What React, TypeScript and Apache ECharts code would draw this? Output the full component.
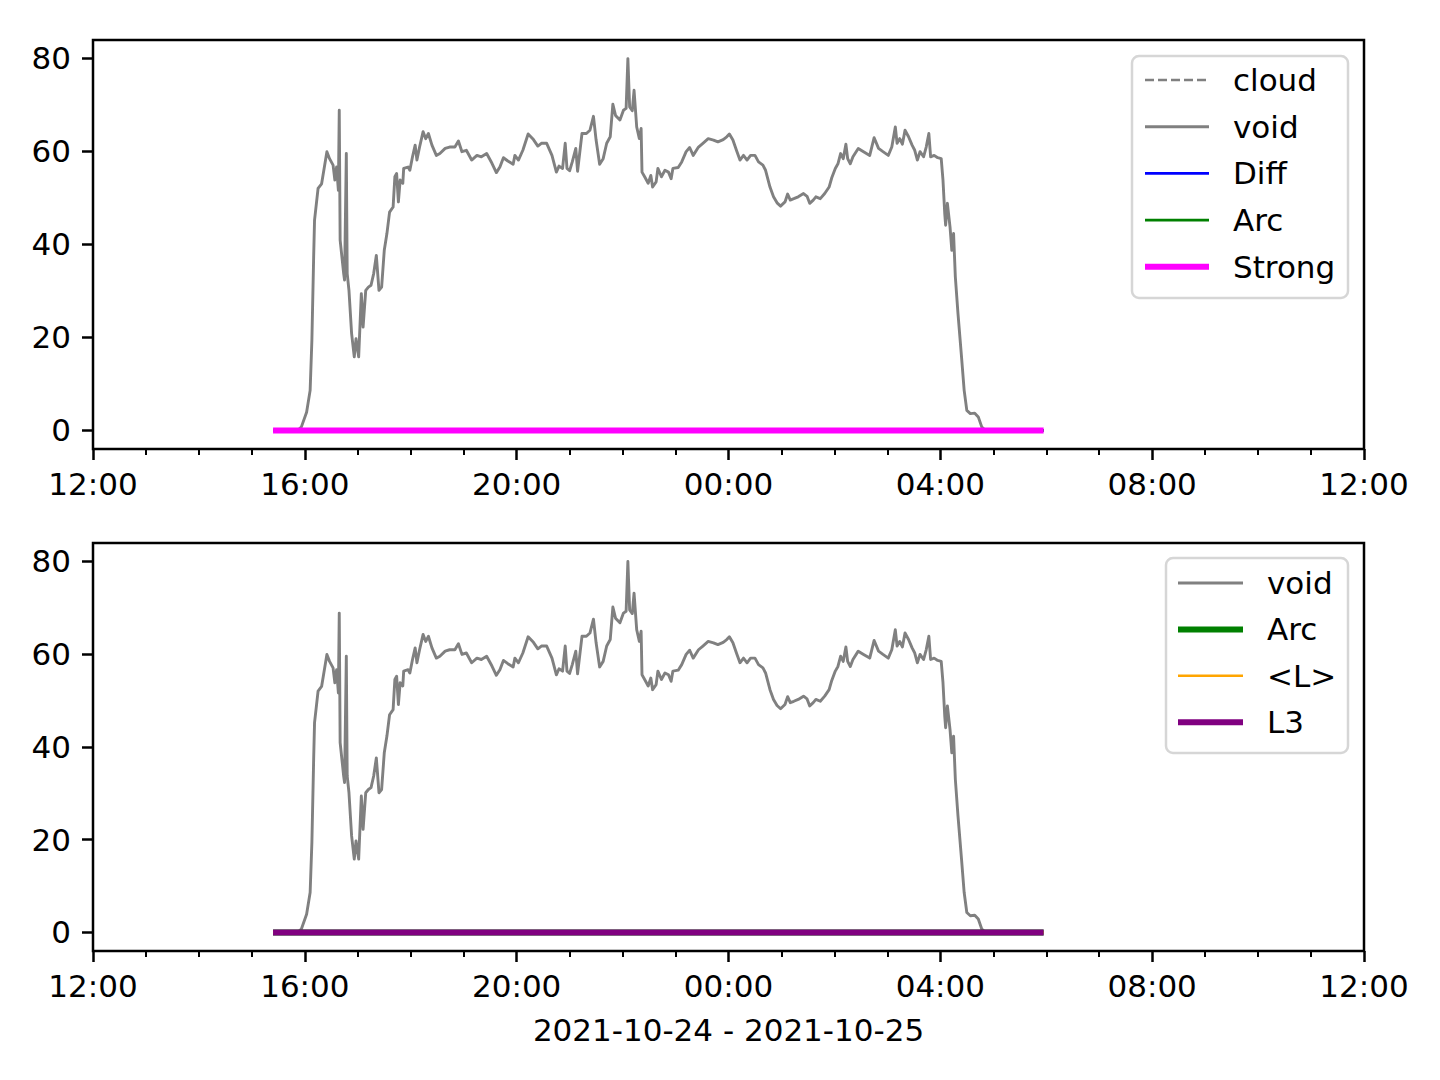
import React, { useEffect, useRef } from "react";
import * as echarts from "echarts";

// x values are minutes after 2021-10-24 12:00
const xTickLabels = ["12:00", "16:00", "20:00", "00:00", "04:00", "08:00", "12:00"];
const yTickValues = [0, 20, 40, 60, 80];
const xAxisTitle = "2021-10-24 - 2021-10-25";
const topLegendNames = ["cloud", "void", "Diff", "Arc", "Strong"];
const bottomLegendNames = ["void", "Arc", "<L>", "L3"];

const voidPoints: [number, number][] = [
  [204, 0], [232, 0], [236, 0.7], [242, 3.9], [246, 8.6], [248, 19.4], [250, 37.3], [251, 45.2],
  [255, 52], [259, 53], [265, 59.9], [268, 58.4], [272, 57], [274, 53.8], [276, 56.6], [278, 51.6],
  [279, 68.8], [280, 40.9], [284, 33.7], [285, 32.3], [287, 59.5], [288, 33.7], [290, 30.1], [293, 20.8],
  [296, 15.8], [298, 19.7], [301, 15.8], [304, 29.4], [306, 22.2], [309, 30.1], [312, 30.8], [315, 31.2],
  [318, 33.7], [321, 37.6], [324, 30.1], [327, 30.8], [330, 38.7], [333, 42.3], [336, 46.9], [340, 48],
  [342, 54.5], [344, 55.2], [346, 49.1], [348, 53.8], [351, 53.1], [352, 56.3], [357, 56.6], [359, 55.9],
  [362, 58.8], [365, 61.3], [367, 58.1], [370, 60.9], [374, 64.2], [377, 62.7], [380, 63.8], [384, 61.3],
  [389, 59.1], [393, 59.5], [399, 60.6], [404, 60.9], [410, 60.9], [414, 62.2], [418, 59.9], [423, 60.2],
  [429, 58.1], [435, 59.1], [440, 58.8], [446, 59.5], [452, 57.4], [457, 55.4], [461, 56.6], [465, 58.6],
  [470, 57.9], [476, 57.2], [478, 59.1], [482, 58.1], [487, 60.2], [493, 63.7], [499, 62.5], [504, 61.1],
  [508, 61.7], [514, 61.7], [520, 59.1], [525, 55.5], [528, 56.8], [532, 56.3], [535, 61.7], [537, 56.3],
  [540, 55.8], [543, 57.7], [547, 60.6], [549, 55.7], [554, 63.8], [559, 63.8], [563, 64.5], [567, 67.5],
  [570, 62.4], [574, 57.2], [578, 58.4], [582, 61.7], [586, 63.1], [589, 70.1], [592, 67.7], [597, 66.7],
  [601, 68.8], [604, 69.2], [606, 79.9], [608, 69.5], [611, 68.7], [613, 73.1], [616, 65.2], [619, 62.7],
  [621, 64.9], [622, 55.5], [625, 54.5], [629, 53.1], [632, 54.8], [634, 52.3], [638, 53.4], [640, 56.3],
  [644, 54.5], [648, 55.9], [652, 55.5], [655, 54.1], [657, 56.3], [663, 56.5], [667, 57.7], [672, 59.9],
  [676, 60.8], [680, 59.1], [686, 60.9], [691, 61.7], [697, 62.7], [703, 62.4], [708, 62], [714, 62.5],
  [718, 63.1], [721, 63.7], [725, 62.4], [729, 60.2], [733, 58.1], [737, 59.1], [741, 58.1], [745, 59.1],
  [750, 59.1], [754, 57.7], [759, 57], [762, 55.9], [767, 52.3], [771, 50.2], [775, 48.9], [779, 48.2],
  [784, 49.1], [787, 50.8], [790, 49.5], [794, 49.8], [799, 50.2], [805, 50.9], [809, 50.3], [812, 48.8],
  [816, 49.5], [819, 50.2], [824, 49.8], [829, 50.9], [834, 52.3], [837, 54.3], [841, 56.3], [844, 57.3],
  [847, 59.5], [850, 58.4], [853, 61.5], [855, 58.4], [858, 57.3], [861, 58.8], [867, 60.6], [873, 59.9],
  [880, 59.1], [885, 62.9], [890, 60.6], [895, 59.9], [901, 59.1], [905, 60.9], [909, 65.2], [911, 61.7],
  [914, 62.7], [917, 61.5], [920, 64.5], [924, 63.1], [928, 61.3], [931, 60.2], [934, 58.1], [937, 59.9],
  [941, 58.8], [944, 60.9], [947, 63.8], [949, 58.8], [953, 59.1], [957, 58.6], [961, 58.4], [963, 53.8],
  [965, 46.6], [966, 44.1], [968, 48.8], [971, 43.7], [973, 38.7], [975, 42.3], [977, 33], [980, 25.1],
  [984, 15.8], [987, 8.6], [990, 4.3], [994, 3.6], [999, 3.7], [1003, 2.9], [1007, 0.7], [1011, 0],
  [1077, 0],
];

// series that stay at zero over the whole record
const zeroStart = 204;
const zeroEnd = 1077;
const zeroValue = 0;

const FONT = "DejaVu Sans";
const GRAY = "#808080";

export default function App() {
  const ref = useRef<HTMLDivElement>(null);

  useEffect(() => {
    document.body.style.margin = "0";
    if (!ref.current) return;
    const chart = echarts.init(ref.current, null, { renderer: "svg" });

    const zeroData = [
      [zeroStart, zeroValue],
      [zeroEnd, zeroValue],
    ];

    const styleFor: Record<string, { color: string; width: number; dashed?: boolean }> = {
      cloud: { color: GRAY, width: 2.6, dashed: true },
      void: { color: GRAY, width: 2.9 },
      Diff: { color: "#0000ff", width: 2.6 },
      ArcTop: { color: "#008000", width: 2.6 },
      Strong: { color: "#ff00ff", width: 6 },
      ArcBottom: { color: "#008000", width: 6 },
      "<L>": { color: "#ffa500", width: 2.6 },
      L3: { color: "#800080", width: 6 },
    };

    const grids = [
      { left: 93, top: 40, width: 1271, height: 409 },
      { left: 93, top: 543, width: 1271, height: 408 },
    ];

    const xAxisBase = (gi: number) => ({
      type: "value",
      gridIndex: gi,
      min: 0,
      max: 1440,
      interval: 240,
      axisLine: { show: false, onZero: false },
      axisTick: { show: true, length: 11, lineStyle: { color: "#000", width: 2.5 } },
      minorTick: { show: true, splitNumber: 4, length: 6, lineStyle: { color: "#000", width: 2 } },
      splitLine: { show: false },
      minorSplitLine: { show: false },
      axisLabel: {
        color: "#000",
        fontSize: 31,
        fontFamily: FONT,
        margin: 19,
        formatter: (v: number) => xTickLabels[Math.round(v / 240)] ?? "",
      },
      ...(gi === 1
        ? {
            name: xAxisTitle,
            nameLocation: "middle",
            nameGap: 63,
            nameTextStyle: { color: "#000", fontSize: 31, fontFamily: FONT },
          }
        : {}),
    });

    const yAxisBase = (gi: number) => ({
      type: "value",
      gridIndex: gi,
      min: -4,
      max: 83.9,
      axisLine: { show: false, onZero: false },
      axisTick: {
        show: true,
        length: 11,
        customValues: yTickValues,
        lineStyle: { color: "#000", width: 2.5 },
      },
      splitLine: { show: false },
      axisLabel: {
        color: "#000",
        fontSize: 31,
        fontFamily: FONT,
        margin: 22,
        customValues: yTickValues,
      },
    });

    const line = (name: string, key: string, gi: number, data: any) => {
      const s = styleFor[key];
      return {
        type: "line",
        name,
        xAxisIndex: gi,
        yAxisIndex: gi,
        data,
        symbol: "none",
        showSymbol: false,
        silent: true,
        lineStyle: {
          color: s.color,
          width: s.width,
          type: s.dashed ? [9, 4] : "solid",
          join: "round",
        },
      };
    };

    const series = [
      line("cloud", "cloud", 0, zeroData),
      line("void", "void", 0, voidPoints),
      line("Diff", "Diff", 0, zeroData),
      line("Arc", "ArcTop", 0, zeroData),
      line("Strong", "Strong", 0, zeroData),
      line("void", "void", 1, voidPoints),
      line("Arc", "ArcBottom", 1, zeroData),
      line("<L>", "<L>", 1, zeroData),
      line("L3", "L3", 1, zeroData),
    ];

    const legendBox = (
      names: string[],
      keys: string[],
      box: { x: number; y: number; w: number; h: number },
      firstRow: number,
      rowGap: number,
      hx1: number,
      hx2: number,
      tx: number
    ) => {
      const children: any[] = [
        {
          type: "rect",
          shape: { x: box.x, y: box.y, width: box.w, height: box.h, r: 7 },
          style: { fill: "#ffffff", stroke: "#d6d6d6", lineWidth: 2.5 },
        },
      ];
      names.forEach((n, i) => {
        const s = styleFor[keys[i]];
        const y = firstRow + i * rowGap;
        children.push({
          type: "line",
          shape: { x1: hx1, y1: y, x2: hx2, y2: y },
          style: {
            stroke: s.color,
            lineWidth: s.width,
            lineDash: s.dashed ? [9, 4] : null,
          },
        });
        children.push({
          type: "text",
          x: tx,
          y: y,
          style: {
            text: n,
            fill: "#000",
            fontSize: 31,
            fontFamily: FONT,
            verticalAlign: "middle",
            align: "left",
          },
        });
      });
      return { type: "group", z: 100, children };
    };

    const option: any = {
      animation: false,
      backgroundColor: "#ffffff",
      grid: grids.map((g) => ({
        ...g,
        show: true,
        borderColor: "#000",
        borderWidth: 2.5,
        backgroundColor: "transparent",
      })),
      xAxis: [xAxisBase(0), xAxisBase(1)],
      yAxis: [yAxisBase(0), yAxisBase(1)],
      series,
      graphic: [
        legendBox(
          topLegendNames,
          ["cloud", "void", "Diff", "ArcTop", "Strong"],
          { x: 1132, y: 56, w: 216, h: 242 },
          80,
          46.7,
          1145,
          1209,
          1233
        ),
        legendBox(
          bottomLegendNames,
          ["void", "ArcBottom", "<L>", "L3"],
          { x: 1166, y: 558, w: 182, h: 195 },
          583,
          46.4,
          1178,
          1243,
          1267
        ),
      ],
    };

    chart.setOption(option);
    return () => chart.dispose();
  }, []);

  return <div ref={ref} style={{ width: 1440, height: 1080 }} />;
}
